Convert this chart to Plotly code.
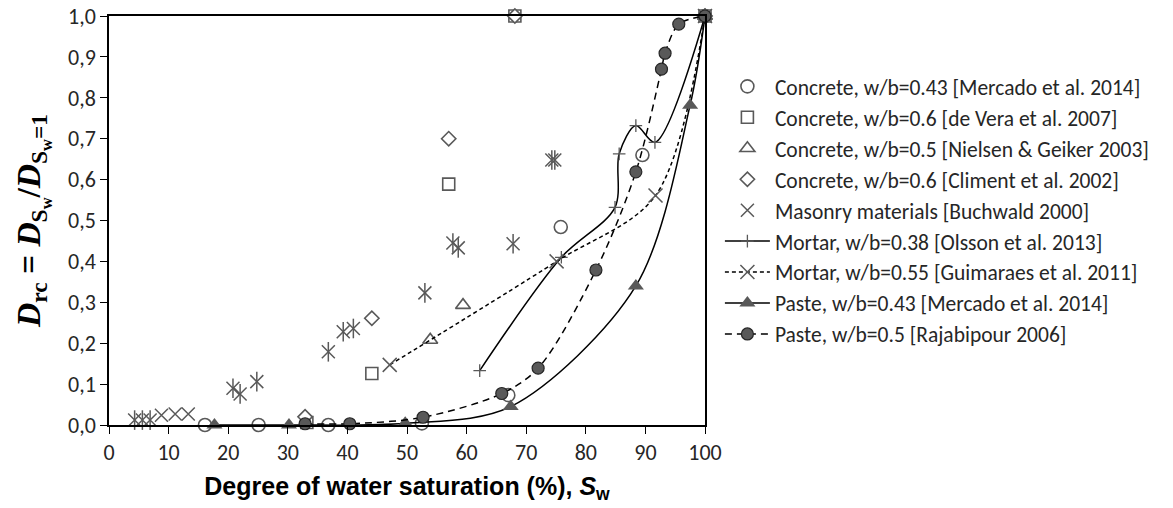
import plotly.graph_objects as go

# ---------------- data ----------------
conc_merc_x = [16.1, 25.1, 36.8, 52.5, 67.0, 75.8, 89.5, 100]
conc_merc_y = [0.0, 0.0, 0.0, 0.004, 0.073, 0.484, 0.66, 1.0]

conc_vera_x = [33.2, 44.1, 57.0, 68.1, 100]
conc_vera_y = [0.006, 0.126, 0.589, 1.0, 1.0]

conc_niel_x = [53.9, 59.4, 100]
conc_niel_y = [0.208, 0.293, 1.0]

conc_clim_x = [32.9, 44.1, 57.0, 68.1, 100]
conc_clim_y = [0.02, 0.261, 0.70, 1.0, 1.0]

masonry_x = [4.3, 5.6, 6.9, 20.8, 22.0, 24.8, 36.8, 39.3, 41.0, 53.0, 57.7, 58.6, 67.8, 74.3, 74.8]
masonry_y = [0.012, 0.012, 0.012, 0.09, 0.076, 0.106, 0.179, 0.228, 0.236, 0.323, 0.445, 0.433, 0.443, 0.648, 0.648]

low_x_x = [8.8, 11.1, 13.3]
low_x_y = [0.024, 0.027, 0.027]

mort_olss_x = [62.2, 75.9, 84.9, 85.6, 88.4, 91.6, 100]
mort_olss_y = [0.133, 0.41, 0.532, 0.663, 0.732, 0.691, 1.0]

mort_guim_x = [47.1, 75.1, 91.7, 100]
mort_guim_y = [0.147, 0.40, 0.561, 1.0]

paste_merc_x = [17.7, 30.2, 49.7, 67.4, 88.4, 97.5, 100]
paste_merc_y = [0.0, 0.0, 0.004, 0.045, 0.34, 0.782, 1.0]

paste_raja_x = [32.9, 40.4, 52.7, 65.9, 72.0, 81.7, 88.4, 92.7, 93.3, 95.6, 100]
paste_raja_y = [0.003, 0.003, 0.019, 0.077, 0.139, 0.379, 0.619, 0.87, 0.909, 0.98, 1.0]

x_ticks = list(range(0, 101, 10))
y_ticks = [i / 10 for i in range(0, 11)]
y_tick_text = ["0,0", "0,1", "0,2", "0,3", "0,4", "0,5", "0,6", "0,7", "0,8", "0,9", "1,0"]

GRAY = "#595959"
FONT = "Calibri, Carlito, Lato, sans-serif"

fig = go.Figure()


def open_marker(x, y, name, symbol, size, group):
    fig.add_trace(go.Scatter(
        x=x, y=y, name=name, mode="markers", legendgroup=group,
        marker=dict(symbol=symbol, size=size, color="white",
                    line=dict(color=GRAY, width=1.6)),
        cliponaxis=False))


open_marker(conc_merc_x, conc_merc_y, "Concrete, w/b=0.43 [Mercado et al. 2014]", "circle", 13, "g1")
open_marker(conc_vera_x, conc_vera_y, "Concrete, w/b=0.6 [de Vera et al. 2007]", "square", 12, "g2")
open_marker(conc_niel_x, conc_niel_y, "Concrete, w/b=0.5 [Nielsen & Geiker 2003]", "triangle-up", 13, "g3")
open_marker(conc_clim_x, conc_clim_y, "Concrete, w/b=0.6 [Climent et al. 2002]", "diamond", 11, "g4")

fig.add_trace(go.Scatter(
    x=masonry_x, y=masonry_y, name="Masonry materials [Buchwald 2000]", mode="markers",
    legendgroup="g5",
    marker=dict(symbol="x-thin-open", size=13, color=GRAY, line=dict(color=GRAY, width=1.5)),
    cliponaxis=False))
fig.add_trace(go.Scatter(
    x=masonry_x, y=masonry_y, name="Masonry materials [Buchwald 2000]", mode="markers",
    legendgroup="g5", showlegend=False,
    marker=dict(symbol="line-ns-open", size=14, color=GRAY, line=dict(color=GRAY, width=1.5)),
    cliponaxis=False))
fig.add_trace(go.Scatter(
    x=low_x_x, y=low_x_y, name="Masonry materials [Buchwald 2000]", mode="markers",
    legendgroup="g5", showlegend=False,
    marker=dict(symbol="x-thin-open", size=13, color=GRAY, line=dict(color=GRAY, width=1.5)),
    cliponaxis=False))

fig.add_trace(go.Scatter(
    x=mort_olss_x, y=mort_olss_y, name="Mortar, w/b=0.38 [Olsson et al. 2013]",
    mode="lines+markers", legendgroup="g6",
    line=dict(color="black", width=1.5, shape="spline", smoothing=0.9),
    marker=dict(symbol="cross-thin-open", size=9, color=GRAY, line=dict(color=GRAY, width=1.3)),
    cliponaxis=False))

fig.add_trace(go.Scatter(
    x=mort_guim_x, y=mort_guim_y, name="Mortar, w/b=0.55 [Guimaraes et al. 2011]",
    mode="lines+markers", legendgroup="g7",
    line=dict(color="black", width=1.5, shape="spline", smoothing=0.9, dash="4px,3px"),
    marker=dict(symbol="x-thin-open", size=14, color=GRAY, line=dict(color=GRAY, width=1.5)),
    cliponaxis=False))

fig.add_trace(go.Scatter(
    x=paste_merc_x, y=paste_merc_y, name="Paste, w/b=0.43 [Mercado et al. 2014]",
    mode="lines+markers", legendgroup="g8",
    line=dict(color="black", width=1.5, shape="spline", smoothing=0.9),
    marker=dict(symbol="triangle-up", size=14, color=GRAY, line=dict(color=GRAY, width=0)),
    cliponaxis=False))

fig.add_trace(go.Scatter(
    x=paste_raja_x, y=paste_raja_y, name="Paste, w/b=0.5 [Rajabipour 2006]",
    mode="lines+markers", legendgroup="g9",
    line=dict(color="black", width=1.5, shape="spline", smoothing=0.9, dash="7px,5px"),
    marker=dict(symbol="circle", size=12, color=GRAY, line=dict(color="#262626", width=1.2)),
    cliponaxis=False))

fig.update_layout(
    width=1173, height=508,
    margin=dict(l=109, r=468, t=16, b=83),
    paper_bgcolor="white", plot_bgcolor="white",
    font=dict(family=FONT, size=22, color="#262626"),
    showlegend=True,
    legend=dict(x=1.025, y=0.878, xanchor="left", yanchor="top",
                font=dict(family=FONT, size=21.5, color="#262626"),
                itemwidth=45, tracegroupgap=0,
                bgcolor="rgba(0,0,0,0)", traceorder="grouped"),
    xaxis=dict(range=[0, 100], tickvals=x_ticks, ticktext=[str(v) for v in x_ticks],
               automargin=False,
               showgrid=False, zeroline=False, showline=True, linecolor="black", linewidth=1.5,
               mirror=True, ticks="outside", ticklen=7, tickwidth=1.3, tickcolor="black",
               tickfont=dict(family=FONT, size=22, color="#262626"),
               title=dict(text="<b>Degree of water saturation (%), <i>S</i><sub>w</sub></b>",
                          font=dict(family="Liberation Sans, Arial, sans-serif", size=25, color="black"),
                          standoff=12)),
    yaxis=dict(range=[0, 1], tickvals=y_ticks, ticktext=y_tick_text,
               automargin=False,
               showgrid=False, zeroline=False, showline=True, linecolor="black", linewidth=1.5,
               mirror=True, ticks="outside", ticklen=7, tickwidth=1.3, tickcolor="black",
               tickfont=dict(family=FONT, size=22, color="#262626"),
               title=dict(text="<b><i>D</i><sub>rc</sub> = <i>D</i><sub>S<sub>w</sub></sub>/<i>D</i><sub>S<sub>w</sub>=1</sub></b>",
                          font=dict(family="Liberation Serif, DejaVu Serif, serif", size=33.5, color="black"),
                          standoff=17)),
)

fig.write_html("out.html")
